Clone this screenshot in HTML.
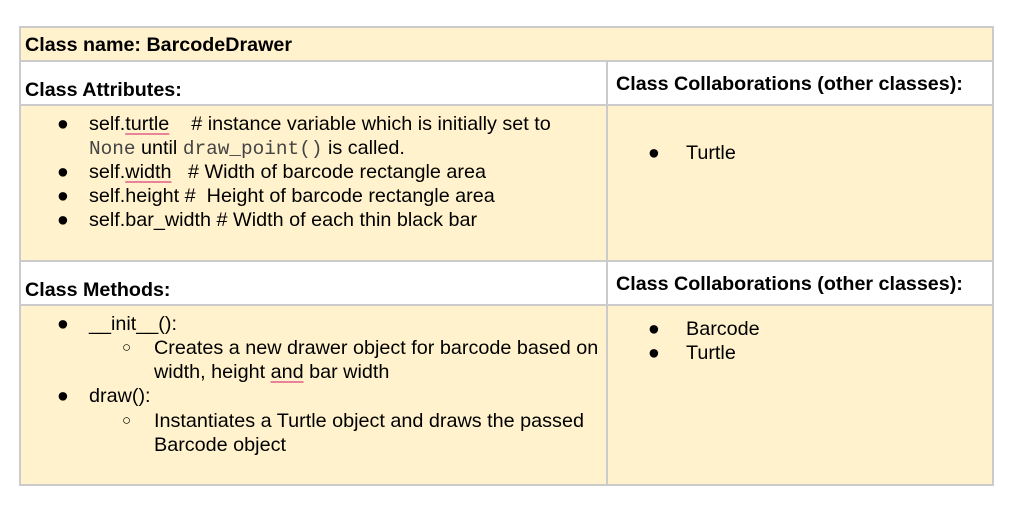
<!DOCTYPE html>
<html><head><meta charset="utf-8"><style>
body{margin:0;width:1009px;height:506px;background:#fff;position:relative;overflow:hidden;font-family:"Liberation Sans",Arial,sans-serif;color:#000}
.r{position:absolute}
.t{position:absolute;white-space:nowrap;font-size:19.8px;line-height:24px}
.b{font-weight:bold;font-size:19.7px}
.m{font-family:"Liberation Mono",monospace;font-size:19.4px;color:#444}
.u{text-decoration:underline;text-decoration-color:#e8849a;text-decoration-thickness:2px;text-underline-offset:3px}
.h{position:absolute;height:2px;background:#cbcbcb}
.v{position:absolute;width:2px;background:#cbcbcb}
</style></head><body>
<div class="r" style="left:20px;top:27px;width:973px;height:458px;background:#fff2cc"></div>
<div class="r" style="left:20px;top:61px;width:973px;height:44px;background:#fff"></div>
<div class="r" style="left:20px;top:261px;width:973px;height:44px;background:#fff"></div>
<div class="h" style="left:20px;top:26px;width:974px"></div>
<div class="h" style="left:20px;top:60px;width:974px"></div>
<div class="h" style="left:20px;top:104px;width:974px"></div>
<div class="h" style="left:20px;top:260px;width:974px"></div>
<div class="h" style="left:20px;top:304px;width:974px"></div>
<div class="h" style="left:20px;top:484px;width:974px"></div>
<div class="v" style="left:19px;top:26px;height:460px"></div>
<div class="v" style="left:992px;top:26px;height:460px"></div>
<div class="v" style="left:606px;top:60px;height:426px"></div>

<div class="t b" style="left:25px;top:33px">Class name: BarcodeDrawer</div>
<div class="t b" style="left:25px;top:78px">Class Attributes:</div>
<div class="t b" style="left:616px;top:72px">Class Collaborations (other classes):</div>
<div class="t b" style="left:25px;top:278px">Class Methods:</div>
<div class="t b" style="left:616px;top:272px">Class Collaborations (other classes):</div>

<div class="t" style="left:57px;top:112px">●</div>
<div class="t" style="left:89px;top:112px">self.<span class="u">turtle</span>&nbsp;&nbsp;&nbsp; # instance variable which is initially set to</div>
<div class="t" style="left:89px;top:136px"><span class="m">None</span> until <span class="m">draw_point()</span> is called.</div>
<div class="t" style="left:57px;top:160px">●</div>
<div class="t" style="left:89px;top:160px">self.<span class="u">width</span>&nbsp;&nbsp; # Width of barcode rectangle area</div>
<div class="t" style="left:57px;top:184px">●</div>
<div class="t" style="left:89px;top:184px">self.height #&nbsp; Height of barcode rectangle area</div>
<div class="t" style="left:57px;top:208px">●</div>
<div class="t" style="left:89px;top:208px">self.bar_width # Width of each thin black bar</div>

<div class="t" style="left:648px;top:141px">●</div>
<div class="t" style="left:686px;top:141px">Turtle</div>

<div class="t" style="left:57px;top:312px">●</div>
<div class="t" style="left:89px;top:312px">__init__():</div>
<div class="t" style="left:122px;top:336px;font-size:15px">○</div>
<div class="t" style="left:154px;top:336px">Creates a new drawer object for barcode based on</div>
<div class="t" style="left:154px;top:360px">width, height <span class="u">and</span> bar width</div>
<div class="t" style="left:57px;top:384px">●</div>
<div class="t" style="left:89px;top:384px">draw():</div>
<div class="t" style="left:122px;top:409px;font-size:15px">○</div>
<div class="t" style="left:154px;top:409px">Instantiates a Turtle object and draws the passed</div>
<div class="t" style="left:154px;top:433px">Barcode object</div>

<div class="t" style="left:648px;top:317px">●</div>
<div class="t" style="left:686px;top:317px">Barcode</div>
<div class="t" style="left:648px;top:341px">●</div>
<div class="t" style="left:686px;top:341px">Turtle</div>
</body></html>
